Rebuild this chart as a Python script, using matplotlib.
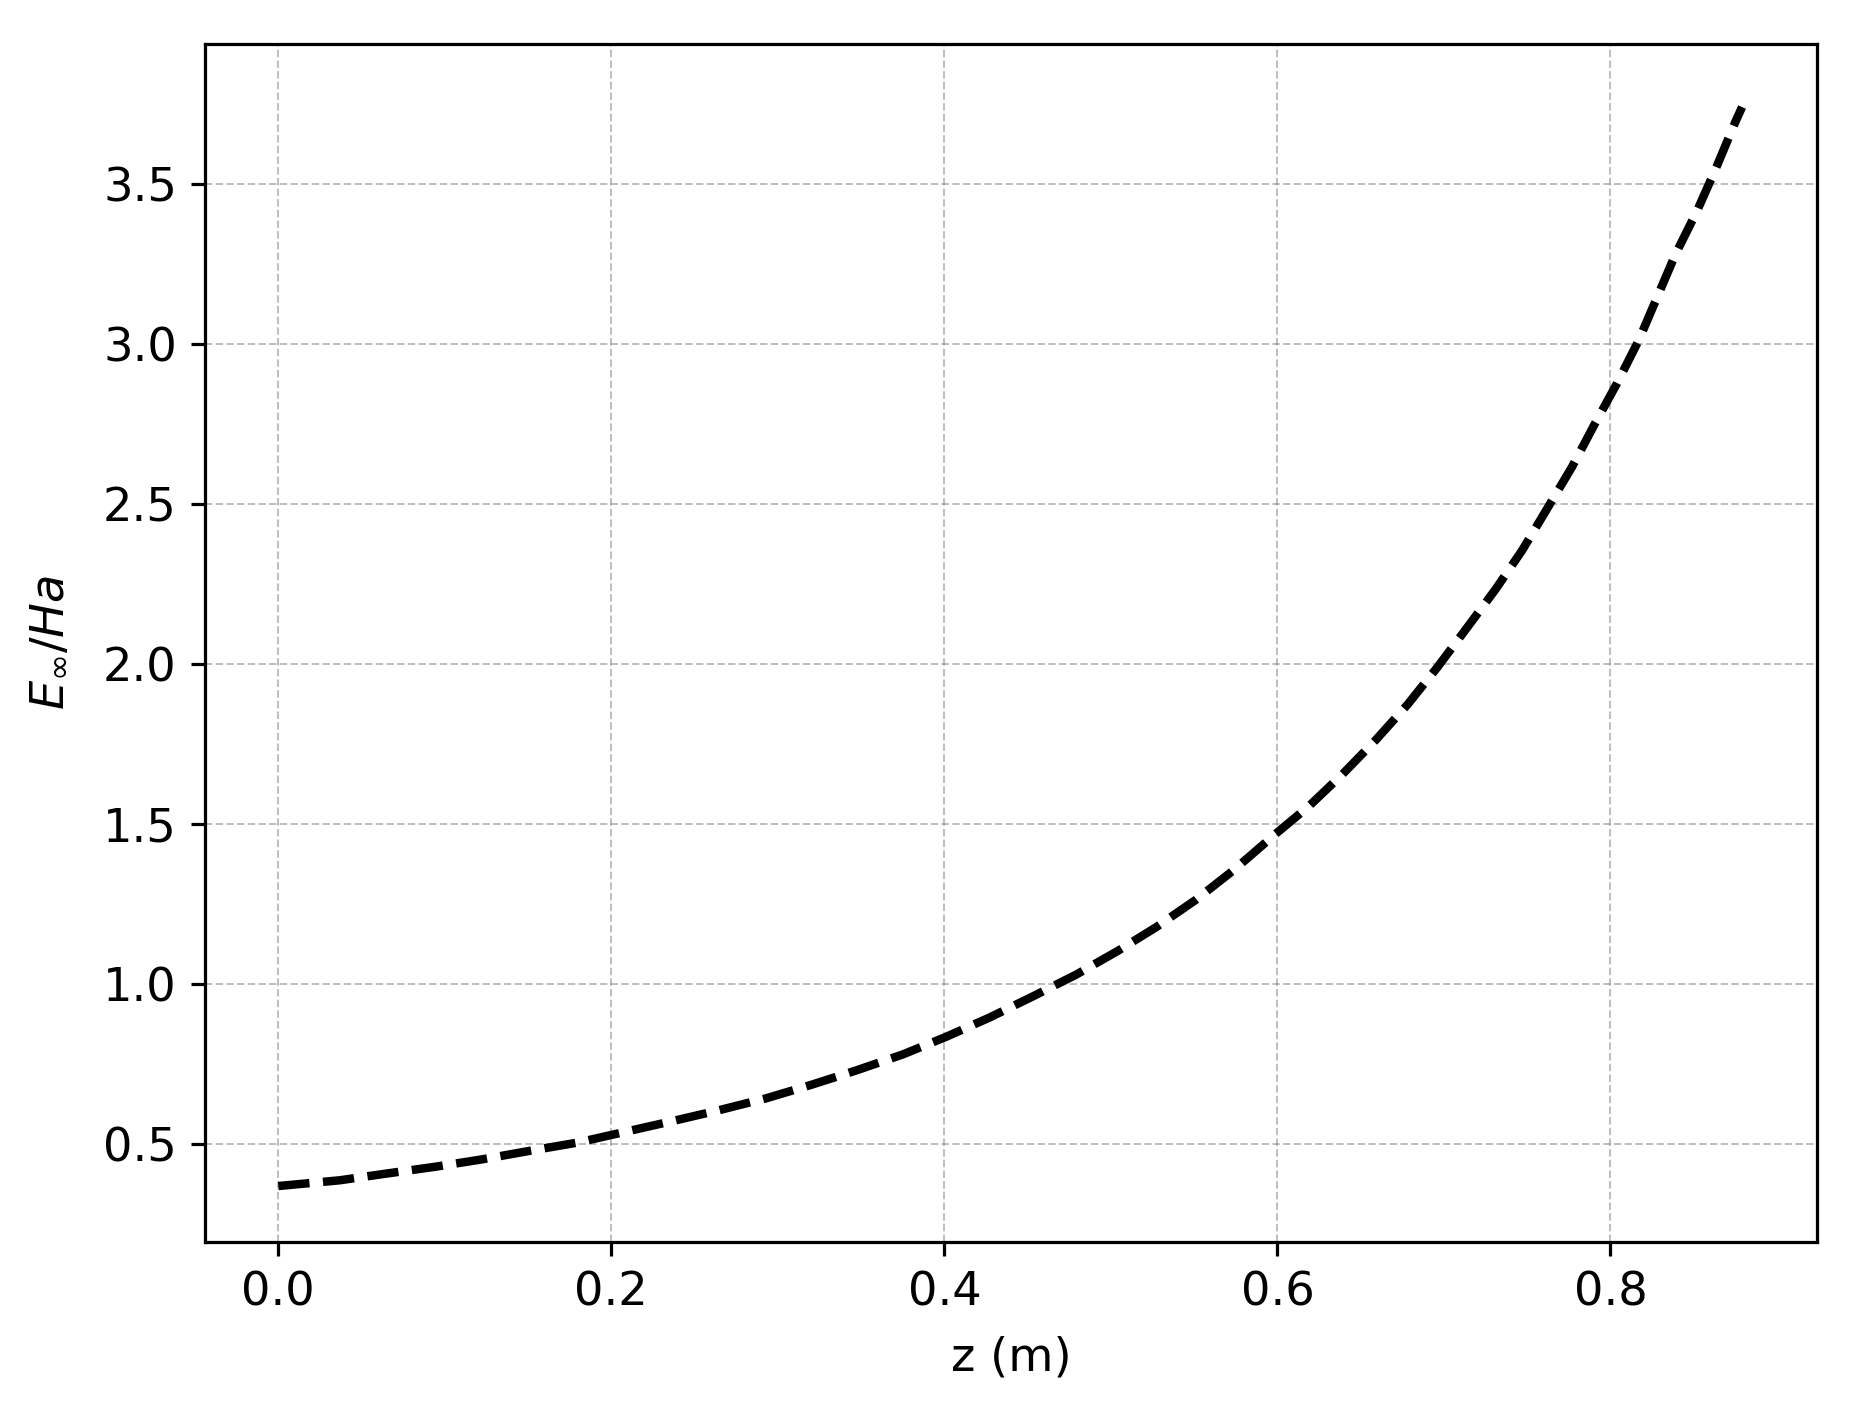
import matplotlib
matplotlib.use("Agg")
import matplotlib.pyplot as plt

plt.rcParams["font.size"] = 11.5

# curve
z_m = [0.000, 0.037, 0.065, 0.094, 0.122, 0.151, 0.180, 0.208, 0.236, 0.264,
       0.293, 0.320, 0.347, 0.375, 0.401, 0.427, 0.453, 0.479, 0.504, 0.527,
       0.551, 0.574, 0.598, 0.619, 0.639, 0.659, 0.678, 0.696, 0.713, 0.731,
       0.747, 0.762, 0.777, 0.790, 0.804, 0.817, 0.828, 0.839, 0.852, 0.863,
       0.875, 0.879]
e_inf_ha = [0.370, 0.388, 0.409, 0.430, 0.453, 0.480, 0.506, 0.539, 0.572, 0.606,
            0.644, 0.686, 0.731, 0.781, 0.836, 0.896, 0.962, 1.030, 1.104, 1.178,
            1.264, 1.358, 1.466, 1.557, 1.656, 1.763, 1.873, 1.990, 2.108, 2.234,
            2.356, 2.486, 2.617, 2.745, 2.878, 3.012, 3.146, 3.280, 3.416, 3.545,
            3.694, 3.740]

x_ticks = [0.0, 0.2, 0.4, 0.6, 0.8]
y_ticks = [0.5, 1.0, 1.5, 2.0, 2.5, 3.0, 3.5]

fig, ax = plt.subplots(figsize=(1859 / 290, 1406 / 290), dpi=290)
fig.subplots_adjust(left=0.1103, right=0.9774, bottom=0.1166, top=0.9687)

ax.plot(z_m, e_inf_ha, color="black", linestyle="--", linewidth=2.1)

ax.set_xticks(x_ticks)
ax.set_yticks(y_ticks)
ax.set_xlim(-0.044, 0.924)
ax.set_ylim(0.195, 3.937)
ax.grid(True, linestyle="--", linewidth=0.5, color="gray", alpha=0.5)

ax.set_xlabel("z (m)", labelpad=5)
ax.set_ylabel(r"$E_{\infty}/Ha$", labelpad=8)

fig.savefig("out.png", dpi=290)
